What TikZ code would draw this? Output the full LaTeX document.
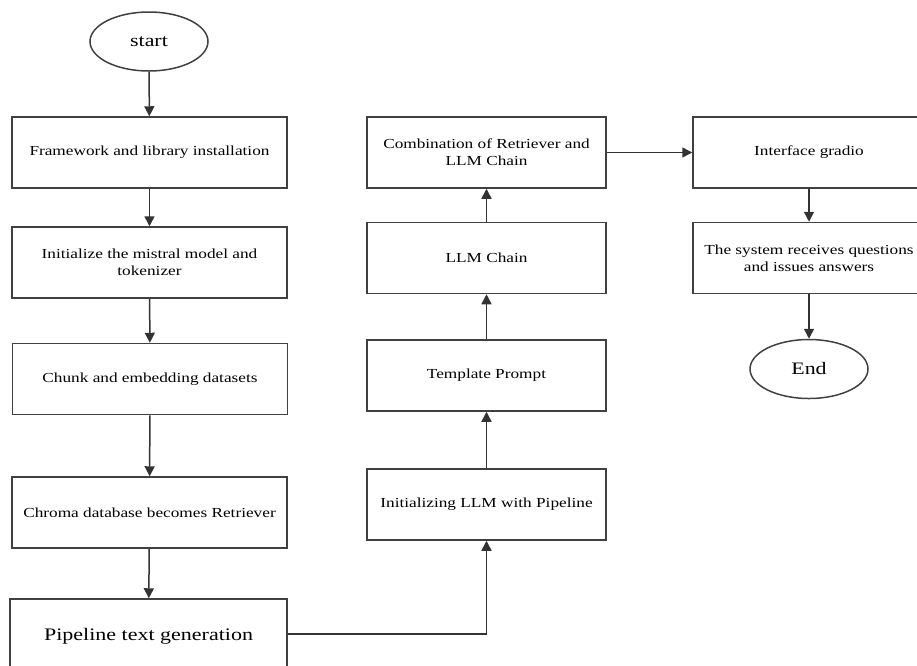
\documentclass[tikz,border=0pt]{standalone}
\usepackage{fontspec}
\setmainfont[FakeStretch=1.25]{Liberation Serif}
\usetikzlibrary{arrows.meta,shapes.geometric}
\begin{document}
\begin{tikzpicture}[x=1pt,y=-1pt,
  box/.style={draw=black!75, line width=1.5pt, minimum height=71pt, align=center, inner sep=0pt, font=\fontsize{13.8}{17}\selectfont},
  lbox/.style={box, minimum width=275pt},
  mbox/.style={box, minimum width=239pt},
  rbox/.style={box, minimum width=232pt},
  term/.style={ellipse, draw=black!75, line width=1.5pt, minimum width=118pt, minimum height=59pt, inner sep=0pt, font=\fontsize{17.5}{20}\selectfont},
  arr/.style={draw=black!80, line width=1.5pt, -{Triangle[length=10pt,width=10pt]}}
]
\useasboundingbox (0,0) rectangle (917,665);
% left column
\node[term] (start) at (149,41.5) {start};
\node[lbox] (fw) at (149.5,152.5) {Framework and library installation};
\node[lbox] (init) at (149.5,262.5) {Initialize the mistral model and\\tokenizer};
\node[lbox] (chunk) at (150,379) {Chunk and embedding datasets};
\node[lbox] (chroma) at (149.5,512.5) {Chroma database becomes Retriever};
\node[lbox, minimum width=277pt, minimum height=75pt, font=\fontsize{17.6}{21}\selectfont] (pipe) at (148.5,636.5) {\raisebox{2pt}{Pipeline text generation}};
% middle column
\node[mbox] (llminit) at (486.5,504.5) {Initializing LLM with Pipeline};
\node[mbox] (tmpl) at (486.5,375.5) {Template Prompt};
\node[mbox] (chain) at (486.5,258) {LLM Chain};
\node[mbox] (comb) at (486.5,152.5) {Combination of Retriever and\\LLM Chain};
% right column
\node[rbox] (gradio) at (809,152.5) {Interface gradio};
\node[rbox] (sys) at (809,258) {The system receives questions\\and issues answers};
\node[term] (end) at (809,369) {End};
% connectors
\draw[arr] (start) -- (fw);
\draw[arr] (fw) -- (init);
\draw[arr] (init) -- (chunk);
\draw[arr] (chunk) -- (chroma);
\draw[arr] (chroma) -- (pipe);
\draw[arr] (pipe.east |- 0,634) -| (llminit.south);
\draw[arr] (llminit) -- (tmpl);
\draw[arr] (tmpl) -- (chain);
\draw[arr] (chain) -- (comb);
\draw[arr] (comb) -- (gradio);
\draw[arr] (gradio) -- (sys);
\draw[arr] (sys) -- (end);
\end{tikzpicture}
\end{document}
